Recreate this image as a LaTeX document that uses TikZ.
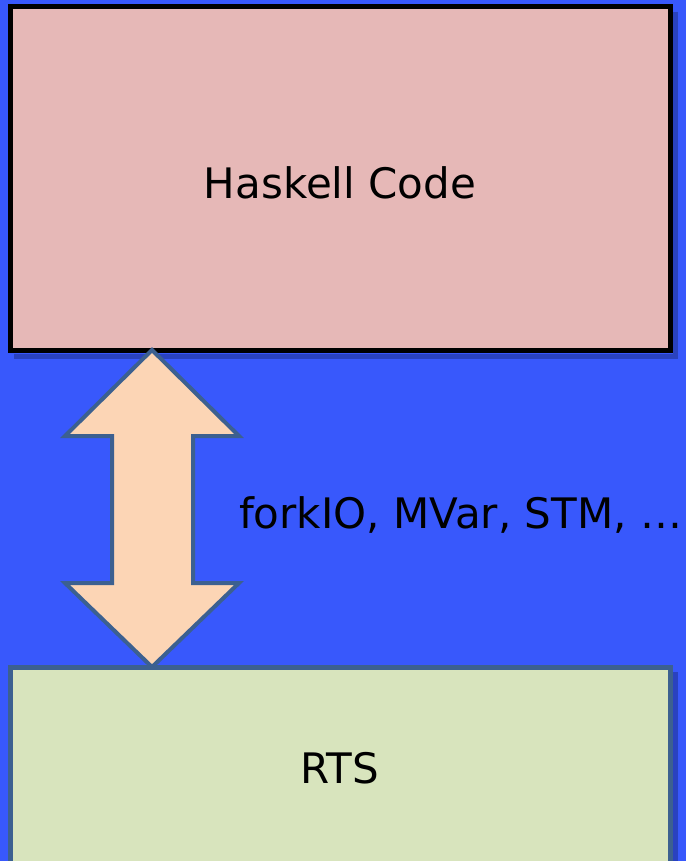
\documentclass[tikz,border=0pt]{standalone}
\usepackage{fontspec}
\setmainfont{DejaVu Sans}
\definecolor{bgblue}{HTML}{3858FC}
\definecolor{pinkfill}{HTML}{E6B8B7}
\definecolor{peach}{HTML}{FCD5B5}
\definecolor{greenfill}{HTML}{D8E4BD}
\definecolor{steel}{HTML}{3C6090}
\begin{document}
\begin{tikzpicture}[x=1pt,y=-1pt,
  boxtext/.style={font=\fontsize{42}{48}\selectfont, text=black},
  shadowline/.style={line width=5pt, draw=black!60!bgblue, opacity=0.4}]
\fill[bgblue] (0,0) rectangle (686,861);
\useasboundingbox (0,0) rectangle (686,861);
% shadows
\draw[shadowline] (675,12) -- (675,356) -- (14,356);
\draw[shadowline] (675,672) -- (675,861);
% top box
\draw[line width=5pt, fill=pinkfill, draw=black] (10,7) rectangle (670,350);
\node[boxtext] (haskell) at (340,183) {Haskell Code};
% bottom box
\draw[line width=5pt, fill=greenfill, draw=steel] (10,667) rectangle (670,875);
\node[boxtext] (rts) at (340,768) {RTS};
% double arrow
\coordinate (toptip) at (152,350);
\coordinate (bottip) at (152,667);
\draw[line width=4pt, fill=peach, draw=steel, line join=miter]
  (toptip) -- (65,436) -- (112,436) -- (112,583) -- (65,583) -- (bottip)
  -- (239,583) -- (193,583) -- (193,436) -- (239,436) -- cycle;
\node[boxtext, anchor=west, inner sep=0pt] (label) at (239,515) {forkIO, MVar, STM, …};
\end{tikzpicture}
\end{document}
